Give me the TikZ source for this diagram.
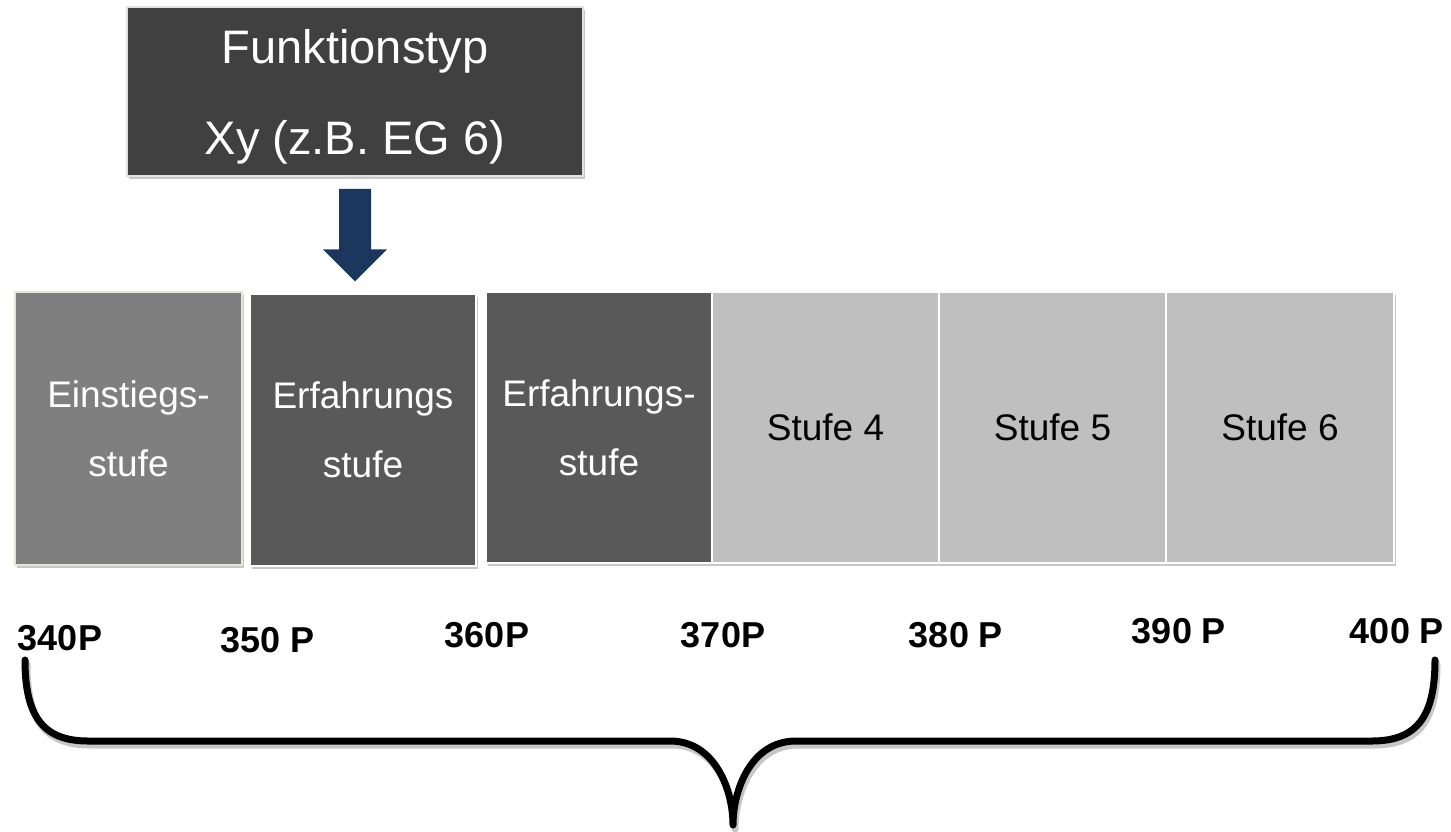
\documentclass[tikz,border=0pt]{standalone}
\usepackage{fontspec}
\setmainfont{Liberation Sans}
\usetikzlibrary{shadows,calc}
\definecolor{typgray}{RGB}{64,64,64}
\definecolor{entrygray}{RGB}{127,127,127}
\definecolor{expgray}{RGB}{89,89,89}
\definecolor{levelgray}{RGB}{191,191,191}
\definecolor{arrowblue}{RGB}{28,55,93}
\definecolor{entryrim}{RGB}{232,228,214}
\begin{document}
\begin{tikzpicture}[x=1pt,y=-1pt,
  softshadow/.style={drop shadow={shadow xshift=1.5pt,shadow yshift=-3pt,fill=black,opacity=0.22}},
  typebox/.style={rectangle, fill=typgray, draw=white!88!black, line width=1.5pt,
    text=white, align=center, font=\fontsize{47}{91}\selectfont, inner sep=0pt,
    text depth=0pt, minimum width=456pt, minimum height=169pt, softshadow},
  stage/.style={rectangle, draw=white, line width=1.5pt, align=center, inner sep=0pt,
    minimum height=271pt, font=\fontsize{37}{69}\selectfont, softshadow},
  points/.style={anchor=base, font=\fontsize{36}{43}\bfseries\selectfont},
  bracestroke/.style={line width=7pt, line cap=round, line join=round}
]
\useasboundingbox (0,0) rectangle (1451,831);

% function type box
\node[typebox] (typ) at (355,91.5) {Funktionstyp\\Xy (z.B. EG 6)};

% level boxes
\node[stage, fill=entrygray, draw=entryrim, text=white, minimum width=227pt, minimum height=273pt]
  (s1) at (128.5,428.5) {Einstiegs-\\stufe};
\node[stage, fill=expgray, text=white, minimum width=226pt, minimum height=272pt]
  (s2) at (363,430) {Erfahrungs\\stufe};
\node[stage, fill=expgray, text=white, minimum width=226pt]
  (s3) at (599,427.5) {Erfahrungs-\\stufe};
\node[stage, fill=levelgray, minimum width=227pt] (s4) at (825.5,427.5) {Stufe 4};
\node[stage, fill=levelgray, minimum width=227pt] (s5) at (1052.5,427.5) {Stufe 5};
\node[stage, fill=levelgray, minimum width=228pt] (s6) at (1280,427.5) {Stufe 6};

% block arrow from the function type to the assigned level
\coordinate (atop) at ($(typ.south)+(0,12)$);
\coordinate (atip) at ($(typ.south |- s2.north)+(0,-12)$);
\fill[arrowblue] ($(atop)+(-16,0)$) -- ($(atop)+(16,0)$) -- ($(atip)+(16,-32)$)
  -- ($(atip)+(32,-32)$) -- (atip) -- ($(atip)+(-32,-32)$) -- ($(atip)+(-16,-32)$) -- cycle;

% point values
\node[points] (p340) at (60,650) {340P};
\node[points] (p350) at (268,652) {350 P};
\node[points] (p360) at (487,647) {360P};
\node[points] (p370) at (723,647) {370P};
\node[points] (p380) at (956,647) {380 P};
\node[points] (p390) at (1179,643) {390 P};
\node[points] (p400) at (1397,643) {400 P};

% curly brace spanning the whole range, with a soft shadow
\foreach \dx/\dy/\op in {2/4/0.22, 0/0/1} {
  \draw[bracestroke, black, opacity=\op, shift={(\dx,\dy)}]
    (25,660) .. controls (25,715) and (42,741) .. (88,741) -- (670,741)
    .. controls (715,741) and (733,790) .. (733,825)
    .. controls (733,790) and (751,741) .. (796,741) -- (1372,741)
    .. controls (1418,741) and (1435,715) .. (1435,660);
}
\end{tikzpicture}
\end{document}
